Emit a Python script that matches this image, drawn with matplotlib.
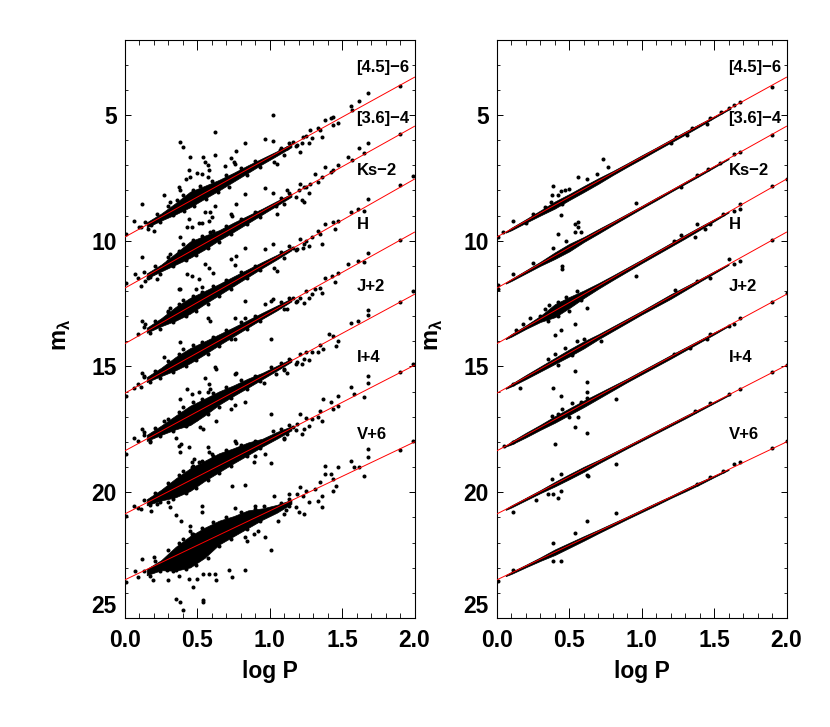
import matplotlib
matplotlib.use("Agg")
import matplotlib.pyplot as plt
import numpy as np
from matplotlib.ticker import MultipleLocator

plt.rcParams['font.family'] = ['Liberation Sans', 'DejaVu Sans']
plt.rcParams['font.weight'] = 'bold'

BANDS = ['[4.5]\u22126', '[3.6]\u22124', 'Ks\u22122', 'H', 'J+2', 'I+4', 'V+6']
FIT_AT_0 = [9.85, 11.88, 14.09, 16.06, 18.35, 20.86, 23.48]
FIT_AT_2 = [3.5, 5.45, 7.55, 9.66, 12.13, 14.95, 18.0]
LABEL_MAG = [3.12, 5.15, 7.2, 9.37, 11.84, 14.65, 17.7]

# dense part of each period-luminosity relation: upper and lower edge of the cloud
LEFT_CORE_LOGP = [.15, .25, .35, .45, .55, .65, .75, .85, .95, 1.05, 1.15]
L45_TOP = [9.27, 8.92, 8.5, 8.05, 7.82, 7.58, 7.3, 7.0, 6.72, 6.44, 6.14]
L45_BOT = [9.47, 9.2, 8.95, 8.67, 8.33, 8.0, 7.65, 7.3, 6.95, 6.62, 6.28]
L36_TOP = [11.3, 10.95, 10.5, 10.03, 9.8, 9.58, 9.28, 9.0, 8.72, 8.42, 8.13]
L36_BOT = [11.5, 11.22, 10.95, 10.68, 10.35, 9.98, 9.65, 9.3, 8.95, 8.6, 8.25]
LKS_TOP = [13.46, 13.08, 12.63, 12.27, 12.0, 11.72, 11.42, 11.13, 10.84, 10.56, 10.26]
LKS_BOT = [13.66, 13.4, 13.18, 12.9, 12.52, 12.16, 11.8, 11.44, 11.08, 10.74, 10.38]
LH_TOP = [15.42, 15.05, 14.62, 14.27, 14.0, 13.72, 13.44, 13.15, 12.86, 12.58, 12.29]
LH_BOT = [15.62, 15.38, 15.15, 14.87, 14.52, 14.15, 13.8, 13.45, 13.1, 12.77, 12.41]
LJ_TOP = [17.72, 17.35, 16.95, 16.56, 16.28, 15.99, 15.75, 15.48, 15.25, 14.97, 14.69]
LJ_BOT = [17.96, 17.72, 17.5, 17.33, 16.95, 16.52, 16.17, 15.84, 15.5, 15.16, 14.81]
LI_TOP = [20.28, 19.9, 19.45, 19.05, 18.75, 18.45, 18.25, 18.02, 17.87, 17.6, 17.38]
LI_BOT = [20.52, 20.33, 20.2, 19.95, 19.55, 19.2, 18.85, 18.52, 18.18, 17.87, 17.54]
LV_TOP = [23.05, 22.7, 22.17, 21.74, 21.41, 21.13, 20.95, 20.72, 20.64, 20.5, 20.3]
LV_BOT = [23.3, 23.1, 23.12, 22.99, 22.61, 22.08, 21.75, 21.42, 21.09, 20.81, 20.46]

# right panel: half-width of the dense ridge about each fit
RIGHT_CORE_LOGP = [.06, .1, .2, .3, .4, .5, .6, .7, .8, .9, 1.0, 1.1, 1.2, 1.3, 1.4, 1.5, 1.6]
R45_W = [.02, .05, .07, .1, .14, .12, .12, .11, .08, .07, .07, .06, .06, .06, .05, .03, .02]
R36_W = [.02, .04, .06, .08, .13, .15, .1, .09, .07, .06, .05, .05, .04, .04, .04, .03, .02]
RKS_W = [.02, .05, .07, .12, .26, .22, .15, .11, .09, .08, .07, .07, .07, .07, .06, .04, .02]
RH_W = [.02, .05, .08, .1, .12, .14, .14, .1, .09, .08, .07, .08, .09, .07, .05, .04, .02]
RJ_W = [.02, .06, .09, .1, .13, .13, .13, .11, .09, .07, .07, .07, .07, .06, .05, .04, .02]
RI_W = [.02, .04, .05, .06, .09, .1, .1, .07, .06, .05, .05, .05, .05, .05, .04, .03, .02]
RV_W = [.02, .04, .05, .07, .11, .1, .09, .07, .06, .05, .05, .05, .04, .05, .05, .03, .02]

# individually resolved stars (logP, mag)
L45_STARS = [(.38,6.09),(.40,6.29),(.62,5.68),(1.02,5.0),(.97,5.96),(.83,6.13),(.77,6.43),(1.02,6.03),(.54,6.67),(.55,6.87),(.57,7.0),(.62,6.6),(.45,6.67),(.73,6.71),(.75,6.87),(.76,6.93),(.69,7.04),(.44,7.2),(.50,7.29),(.53,7.33),(.58,7.2),(.57,7.47),(.42,7.53),(.45,7.47),(.37,7.87),(.38,8.0),(.27,8.2),(.12,8.56),(.31,8.47),(.06,9.23),(.01,9.73),(.11,9.47),(.16,9.53),(.2,9.6),(1.90,3.83),(1.68,4.11),(1.62,4.44),(1.56,4.64),(1.57,4.8),(1.44,5.09),(1.42,5.13),(1.38,5.2),(1.47,5.33),(1.44,5.4),(1.35,5.6),(1.28,5.6),(1.33,5.53),(1.36,5.89),(1.29,5.93),(1.23,5.87),(1.19,6.2),(1.22,6.13),(1.21,6.47),(1.03,6.87),(1.05,6.93),(1.07,6.4),(1.12,6.33),(1.16,6.07),
 (.1,9.45),(.14,9.25),(.18,9.38),(.22,8.95),(.24,9.25),(.3,8.62),(.33,8.98),(.36,8.38),(.4,8.2),(.41,8.82),(.47,7.98),(.48,8.6),(.52,7.84),(.56,8.33),(.6,7.62),(.64,8.08),(.7,7.38),(.72,7.85),(.8,7.12),(.84,7.38),(.9,6.82),(.93,7.08),(1.08,6.3),(1.1,6.58),(1.13,6.12),(1.18,6.24),(1.25,5.82),(1.27,6.12)]
L36_STARS = [(1.90,5.76),(1.68,6.13),(1.62,6.33),(1.65,6.53),(1.54,6.67),(1.57,6.8),(1.47,7.0),(1.44,7.2),(1.38,7.07),(1.42,7.27),(1.31,7.33),(1.36,7.47),(1.33,7.67),(1.28,7.73),(1.21,7.73),(1.24,7.87),(1.2,8.0),(1.22,8.4),(1.24,8.47),(1.12,8.0),(1.02,8.09),(.83,8.13),(.97,7.89),(1.05,8.93),(1.04,8.6),(.77,8.56),(.73,8.93),(.74,9.0),(.62,8.6),(.59,8.87),(.55,8.87),(.6,9.07),(.58,9.2),(.44,9.13),(.51,9.31),(.53,9.31),(.43,9.47),(.46,9.47),(.38,9.87),(.31,10.53),(.3,10.8),(.12,10.64),(.07,11.33),(.01,11.67),(.11,11.8),(.16,11.47),(.22,11.53),(.14,11.6),(.59,9.67),
 (.09,11.5),(.13,11.25),(.17,11.45),(.21,11.0),(.24,11.32),(.3,10.65),(.33,11.0),(.37,10.4),(.4,10.15),(.42,10.75),(.47,9.98),(.49,10.55),(.53,9.83),(.57,10.3),(.61,9.62),(.65,10.05),(.7,9.4),(.73,9.75),(.8,9.15),(.84,9.35),(.9,8.85),(.93,9.05),(1.08,8.3),(1.1,8.55),(1.13,8.12),(1.18,8.28),(1.25,7.85),(1.27,8.1)]
LKS_STARS = [(1.9,7.8),(1.99,7.43),(1.68,8.33),(1.61,8.73),(1.56,8.87),(1.65,8.8),(1.47,9.2),(1.44,9.27),(1.38,9.33),(1.45,9.53),(1.35,9.73),(1.33,9.6),(1.29,9.87),(1.36,10.13),(1.21,9.93),(1.23,10.27),(1.19,10.33),(1.24,10.13),(1.16,10.27),(1.02,10.13),(.83,10.27),(.97,10.33),(.77,10.6),(.73,10.73),(.76,10.97),(1.03,11.09),(1.05,11.2),(.55,10.93),(.58,11.07),(.61,11.27),(.43,11.33),(.46,11.4),(.51,11.53),(.53,11.84),(.49,11.93),(.38,11.93),(.31,12.67),(.3,12.8),(.12,13.2),(.14,13.3),(.57,13.07),(.59,13.2),(.76,13.07),(.83,12.4),(1.01,12.4),(.37,11.93),
 (.09,13.7),(.13,13.45),(.17,13.68),(.21,13.2),(.24,13.5),(.3,12.85),(.33,13.25),(.37,12.5),(.4,12.35),(.42,13.0),(.47,12.2),(.49,12.8),(.53,12.02),(.57,12.5),(.61,11.82),(.65,12.2),(.7,11.55),(.73,11.9),(.8,11.25),(.84,11.5),(.9,11.0),(.93,11.18),(1.08,10.45),(1.1,10.7),(1.13,10.22),(1.18,10.38),(1.25,10.0),(1.27,10.22)]
LH_STARS = [(1.9,9.97),(1.68,10.47),(1.61,10.8),(1.54,10.93),(1.65,10.84),(1.47,11.27),(1.43,11.4),(1.38,11.47),(1.45,11.64),(1.35,11.87),(1.31,11.93),(1.29,12.13),(1.36,12.07),(1.21,12.27),(1.24,12.47),(1.19,12.4),(1.16,12.27),(1.02,12.33),(.97,12.53),(1.12,12.73),(.83,13.07),(.38,14.02),(.27,14.62),(.12,15.24),(.13,15.37),(.06,15.86),(.01,16.16),(.11,15.83),(.63,15.1),(.62,15.04),(1.01,13.92),(.76,13.92),
 (.09,15.68),(.13,15.4),(.17,15.62),(.21,15.18),(.24,15.45),(.3,14.78),(.33,15.2),(.37,14.5),(.4,14.3),(.42,15.0),(.47,14.15),(.49,14.75),(.53,14.03),(.57,14.5),(.61,13.82),(.65,14.2),(.7,13.55),(.73,13.9),(.8,13.25),(.84,13.5),(.9,13.0),(.93,13.18),(1.08,12.42),(1.1,12.72),(1.13,12.26),(1.18,12.42),(1.25,12.0),(1.27,12.28)]
LJ_STARS = [(1.9,12.43),(1.99,12.0),(1.68,12.77),(1.68,12.96),(1.61,13.2),(1.56,13.27),(1.44,13.78),(1.47,13.98),(1.41,13.72),(1.46,14.18),(1.35,14.14),(1.37,14.31),(1.33,14.44),(1.29,14.44),(1.21,14.51),(1.24,14.71),(1.19,14.84),(1.22,14.91),(1.1,15.11),(1.12,15.24),(1.04,15.3),(1.01,15.04),(.76,15.3),(.77,15.24),(.96,15.64),(.55,15.44),(.58,15.7),(.43,15.9),(.46,16.1),(.51,16.03),(.57,16.03),(.59,15.9),(.83,16.43),(.76,16.52),(.73,16.69),(.38,16.3),(.63,17.16),(.54,17.49),(.52,17.42),(.27,17.16),(.12,17.49),(.13,17.62),(.06,17.84),(.01,18.48),(.17,18.02),
 (.09,17.98),(.13,17.72),(.17,17.95),(.21,17.45),(.24,17.78),(.3,17.08),(.33,17.55),(.37,16.82),(.4,16.62),(.42,17.35),(.47,16.42),(.49,17.1),(.53,16.28),(.57,16.88),(.61,16.05),(.65,16.6),(.7,15.82),(.73,16.25),(.8,15.55),(.84,15.88),(.9,15.38),(.93,15.58),(1.08,14.88),(1.1,15.15),(1.13,14.7),(1.18,14.9),(1.25,14.42),(1.27,14.75)]
LI_STARS = [(1.9,15.2),(1.99,14.91),(1.68,15.37),(1.68,15.64),(1.56,15.83),(1.58,16.1),(1.47,16.16),(1.65,16.23),(1.37,16.3),(1.42,16.43),(1.44,16.69),(1.47,16.56),(1.35,16.76),(1.33,17.02),(1.36,17.16),(1.29,17.09),(1.21,16.89),(1.19,17.29),(1.24,17.49),(1.22,17.69),(1.16,17.42),(1.1,17.88),(1.12,17.69),(1.01,16.87),(1.02,17.55),(.97,18.48),(1.01,18.84),(.9,18.55),(.89,18.81),(.83,19.7),(.74,19.74),(.76,17.95),(.77,18.04),(.57,18.21),(.6,18.48),(.58,18.41),(.46,18.81),(.48,18.68),(.46,19.0),(.51,18.81),(.44,18.21),(.39,18.08),(.35,17.84),(.37,18.15),(.38,18.41),(.01,20.93),(.06,20.53),(.18,20.75),(.22,20.46),(.11,20.66),(.3,20.4),(.31,20.6),(.53,20.53),(.53,20.79),
 (.09,20.62),(.13,20.32),(.17,20.52),(.21,20.02),(.24,20.38),(.3,19.62),(.33,20.25),(.37,19.3),(.4,19.15),(.42,20.02),(.47,18.95),(.49,19.82),(.53,18.75),(.57,19.5),(.61,18.55),(.65,19.25),(.7,18.32),(.73,18.95),(.8,18.12),(.84,18.55),(.9,17.95),(.93,18.25),(1.08,17.5),(1.1,17.85),(1.13,17.32),(1.18,17.52),(1.25,17.05),(1.27,17.35)]
LV_STARS = [(1.9,18.32),(1.99,17.95),(1.68,18.28),(1.68,18.58),(1.65,19.37),(1.56,18.74),(1.58,19.0),(1.62,19.0),(1.47,18.98),(1.38,18.94),(1.42,19.27),(1.38,19.27),(1.44,19.47),(1.46,19.74),(1.44,19.94),(1.35,19.6),(1.31,19.87),(1.36,20.13),(1.36,20.6),(1.33,20.33),(1.21,19.8),(1.23,20.13),(1.19,20.06),(1.13,20.06),(1.2,20.79),(1.24,20.86),(1.11,20.72),(1.13,20.53),(1.07,20.6),(1.03,20.13),(1.06,21.13),(.96,20.53),(.9,20.53),(.76,20.64),(.83,21.79),(.97,21.79),(.92,21.53),(.89,21.66),(.84,21.92),(1.01,22.29),(.83,23.1),(.74,23.37),(.72,23.08),(.63,23.5),(.62,23.24),(.58,23.24),(.54,23.24),(.5,23.44),(.47,23.75),(.44,23.44),(.37,23.35),(.3,23.48),(.29,23.08),(.35,23.11),(.19,23.5),(.07,23.14),(.01,23.57),(.35,24.23),(.38,24.37),(.4,24.67),(.54,24.37),(.54,24.28),(.35,20.89),(.39,21.13),(.45,21.33),(.12,22.64),(.2,22.58),(.45,21.53),(.46,21.66),
 (.09,23.38),(.13,23.15),(.17,23.32),(.21,22.75),(.24,23.15),(.3,22.3),(.33,23.15),(.37,22.0),(.4,21.85),(.42,23.05),(.47,21.65),(.49,22.9),(.53,21.42),(.57,22.6),(.61,21.18),(.65,22.15),(.7,21.0),(.73,21.85),(.8,20.8),(.84,21.48),(.9,20.68),(.93,21.15),(1.08,20.42),(1.1,20.85),(1.13,20.28),(1.18,20.58),(1.25,19.95),(1.27,20.4)]

R45_STARS = [(1.9,3.87),(1.68,4.47),(1.64,4.6),(1.6,4.73),(1.55,4.9),(1.47,5.13),(1.45,5.36),(1.35,5.53),(1.31,5.8),(1.24,5.87),(1.2,6.13),(.73,6.76),(.77,7.07),(.56,7.47),(.62,7.53),(.39,7.83),(.38,8.2),(.44,8.03),(.44,8.97),(.47,8.0),(.25,8.93),(.11,9.23),(.01,9.87),(.04,9.67),(.2,9.31),(.69,7.33),
 (.33,8.65),(.37,8.45),(.42,8.2),(.5,7.95),(.45,8.55),(.55,8.1)]
R36_STARS = [(1.9,5.81),(1.68,6.47),(1.64,6.56),(1.54,6.91),(1.46,7.16),(1.38,7.4),(1.27,7.87),(.96,8.49),(.56,9.27),(.56,9.47),(.54,9.33),(.54,9.67),(.58,9.67),(.42,9.73),(.48,10.0),(.39,10.27),(.45,11.0),(.45,11.13),(.11,11.31),(.01,11.93),(.01,11.76),(.25,10.87)]
RKS_STARS = [(1.9,7.83),(2.0,7.53),(1.68,8.53),(1.68,8.73),(1.64,8.8),(1.56,8.93),(1.47,9.33),(1.38,9.33),(1.44,9.53),(1.37,9.87),(1.27,9.76),(1.22,10.0),(.96,11.4),(.62,12.67),(.54,13.33),(.44,13.53),(.23,13.07),(.18,13.33),(.13,13.53),
 (.3,13.0),(.33,12.7),(.36,12.55),(.42,12.45),(.48,12.25),(.55,12.0),(.58,12.35),(.5,12.8),(.42,13.0),(.35,13.2)]
RH_STARS = [(1.9,9.97),(1.68,10.8),(1.6,10.73),(1.64,10.93),(1.47,11.47),(1.38,11.6),(1.23,11.97),(.54,15.17),(.4,13.74),(.72,13.98),(.11,15.7),(.16,15.86),
 (.35,14.7),(.4,14.5),(.47,14.25),(.55,14.0),(.6,13.9),(.52,14.55),(.42,14.95)]
RJ_STARS = [(1.9,12.43),(2.0,12.07),(1.68,13.07),(1.64,13.33),(1.6,13.4),(1.47,13.72),(1.45,13.92),(1.33,14.25),(1.22,14.5),(.39,15.86),(.44,16.16),(.62,15.6),(.62,16.03),(.62,17.66),(.54,17.39),(.4,18.08),(.56,17.02),(.82,16.3),(.11,18.02),(.05,18.15),(.42,16.89),
 (.38,16.95),(.45,16.7),(.52,16.45),(.58,16.4),(.62,16.25),(.5,17.0)]
RI_STARS = [(1.9,15.2),(2.0,14.95),(1.68,15.9),(1.6,16.1),(1.47,16.47),(1.37,16.76),(.82,18.88),(.63,19.34),(.62,19.3),(.38,19.47),(.44,19.27),(.35,20.07),(.39,20.07),(.42,20.22),(.44,19.94),(.27,20.3),(.11,20.77)]
RV_STARS = [(1.9,18.24),(2.0,17.97),(1.68,18.81),(1.64,18.88),(1.56,19.14),(1.47,19.4),(1.38,19.67),(.82,20.83),(.62,21.16),(.54,21.63),(.39,22.0),(.44,22.75),(.39,22.72),(.11,23.11),(.01,23.51)]

LEFT_TOPS = [L45_TOP, L36_TOP, LKS_TOP, LH_TOP, LJ_TOP, LI_TOP, LV_TOP]
LEFT_BOTS = [L45_BOT, L36_BOT, LKS_BOT, LH_BOT, LJ_BOT, LI_BOT, LV_BOT]
LEFT_STARS = [L45_STARS, L36_STARS, LKS_STARS, LH_STARS, LJ_STARS, LI_STARS, LV_STARS]
RIGHT_WIDTHS = [R45_W, R36_W, RKS_W, RH_W, RJ_W, RI_W, RV_W]
RIGHT_STARS = [R45_STARS, R36_STARS, RKS_STARS, RH_STARS, RJ_STARS, RI_STARS, RV_STARS]

W, H = 830, 727
fig = plt.figure(figsize=(W / 100, H / 100), dpi=100)
ax_l = fig.add_axes([125 / W, 1 - 618 / H, 289.5 / W, 578.5 / H])
ax_r = fig.add_axes([497 / W, 1 - 618 / H, 289.5 / W, 578.5 / H])


def style(ax):
    ax.set_xlim(0, 2)
    ax.set_ylim(25, 2)
    ax.xaxis.set_major_locator(MultipleLocator(0.5))
    ax.xaxis.set_minor_locator(MultipleLocator(0.1))
    ax.yaxis.set_major_locator(MultipleLocator(5))
    ax.yaxis.set_minor_locator(MultipleLocator(1))
    ax.tick_params(axis='x', which='major', direction='in', top=True, length=7.2, width=0.7, labelsize=16.5, pad=8)
    ax.tick_params(axis='x', which='minor', direction='in', top=True, length=3.6, width=0.6)
    ax.tick_params(axis='y', which='major', direction='in', right=True, length=4.5, width=0.7, labelsize=16.5, pad=6)
    ax.tick_params(axis='y', which='minor', direction='in', right=True, length=2.2, width=0.6)
    ax.set_xticks([0, .5, 1, 1.5, 2])
    ax.set_xticklabels(['0.0', '0.5', '1.0', '1.5', '2.0'])
    ax.set_yticks([5, 10, 15, 20, 25])
    ax.set_yticklabels(['5', '10', '15', '20', '25'])
    ax.get_yticklabels()[-1].set_va('bottom')
    for s in ax.spines.values():
        s.set_linewidth(0.8)
    ax.set_xlabel('log P', fontsize=16.5, fontweight='bold')
    ax.xaxis.set_label_coords(0.5, -0.072)
    ax.set_ylabel(r'm$_{\mathregular{\lambda}}$', fontsize=17, fontweight='bold')
    ax.yaxis.set_label_coords(-0.18, 0.49)
    for name, m in zip(BANDS, LABEL_MAG):
        ax.text(1.6, m, name, fontsize=12, fontweight='bold', va='center', ha='left', clip_on=False)


for ax in (ax_l, ax_r):
    style(ax)

for i in range(7):
    ax_l.fill_between(LEFT_CORE_LOGP, LEFT_TOPS[i], LEFT_BOTS[i], color='black', lw=0.5, zorder=2)
    lp, mg = zip(*LEFT_STARS[i])
    ax_l.plot(lp, mg, ls='none', marker='o', ms=2.9, mew=0, color='black', zorder=3)
    ax_l.plot([0, 2], [FIT_AT_0[i], FIT_AT_2[i]], color='red', lw=0.7, zorder=4)

    core = np.array(RIGHT_CORE_LOGP)
    fit = FIT_AT_0[i] + (FIT_AT_2[i] - FIT_AT_0[i]) * core / 2
    wid = np.array(RIGHT_WIDTHS[i])
    ax_r.fill_between(core, fit - wid, fit + wid, color='black', lw=0.5, zorder=2)
    lp, mg = zip(*RIGHT_STARS[i])
    ax_r.plot(lp, mg, ls='none', marker='o', ms=2.9, mew=0, color='black', zorder=3)
    ax_r.plot([0, 2], [FIT_AT_0[i], FIT_AT_2[i]], color='red', lw=0.7, zorder=4)

fig.savefig('out.png', dpi=100)
